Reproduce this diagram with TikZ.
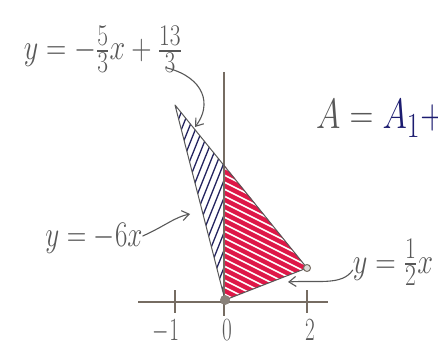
\documentclass[tikz,border=0pt]{standalone}
\usepackage{amsmath}
\usepackage{graphicx}
\usepackage{xcolor}
\usepackage{tikz}
\usetikzlibrary{arrows.meta}
\definecolor{pencil}{RGB}{88,88,88}
\definecolor{axisgray}{RGB}{118,108,98}
\definecolor{hatchblue}{RGB}{35,35,95}
\definecolor{hatchred}{RGB}{222,24,72}
\definecolor{inkblue}{RGB}{28,28,112}

\begin{document}
\begin{tikzpicture}[x=1pt, y=-1pt, >={Straight Barb[length=7pt,width=10pt]}, font=\Huge,
    hand/.style={color=pencil, line width=1.1pt, line cap=round},
    eqn/.style={text=pencil, inner sep=0pt, anchor=base}]
  \useasboundingbox (0,0) rectangle (438,347);
  \clip (0,0) rectangle (438,347);
  % corners of the region
  \coordinate (P) at (175,105);
  \coordinate (M) at (225,166);
  \coordinate (O) at (225,300);
  \coordinate (Q) at (307,268);
  % hatching
  \begin{scope}
    \clip (P) -- (M) -- (O) -- cycle;
    \foreach \s in {88,95,...,232}
      \draw[hatchblue, line width=1.3pt] (\s,310) -- ++(85,-212);
  \end{scope}
  \begin{scope}
    \clip (M) -- (Q) -- (O) -- cycle;
    \foreach \t in {146,153,...,306}
      \draw[hatchred, line width=4.4pt] (215,\t) -- ++(110,55);
  \end{scope}
  % axes
  \coordinate (xl) at (138,302);
  \coordinate (xr) at (328,302);
  \coordinate (yt) at (224,72);
  \coordinate (yb) at (224,316);
  \draw[axisgray, line width=1.2pt] (xl) -- (xr);
  \draw[axisgray, line width=1.1pt] (yt) -- (yb);
  \foreach \x in {175,307}
    \draw[axisgray, line width=1.2pt] (\x,290) -- (\x,313);
  \node[eqn] (tm1) at (166,340) {\scalebox{0.85}[1.3]{$-1$}};
  \node[eqn] (t0) at (227,340) {\scalebox{0.85}[1.3]{$0$}};
  \node[eqn] (t2) at (310,340) {\scalebox{0.85}[1.3]{$2$}};
  % triangle
  \draw[pencil, line width=1pt, line join=round] (P) -- (O) -- (Q) -- cycle;
  \fill[axisgray!85] (O) circle (5pt);
  \draw[axisgray, line width=1pt, fill=axisgray!25] (Q) circle (3.5pt);
  % labels
  \node[eqn] (lblTop) at (103,60)
    {\scalebox{1.13}[1.45]{$y=-\tfrac{5}{3}x+\tfrac{13}{3}$}};
  \node[eqn] (lblLeft) at (94,246)
    {\scalebox{1.09}[1.45]{$y=-6x$}};
  \node[eqn] (lblRight) at (393,273)
    {\scalebox{1.14}[1.45]{$y=\tfrac{1}{2}x$}};
  \node[anchor=base west, inner sep=0pt] (area) at (316,129)
    {\scalebox{1.33}[1.7]{{\color{pencil}$A={}$}{\color{inkblue}$A_1+$}}};
  % pointers
  \coordinate (tipTop) at (195,127);
  \coordinate (tipLeft) at (190,214);
  \coordinate (tipRight) at (288,282);
  \draw[hand, ->] ([xshift=-15pt, yshift=-8pt]lblTop.base east) .. controls (205,78) and (212,105) .. (tipTop);
  \draw[hand, ->] ([yshift=10pt]lblLeft.base east) .. controls (165,226) and (175,217) .. (tipLeft);
  \draw[hand, ->] ([yshift=3pt]lblRight.base west) .. controls (342,286) and (318,280) .. (tipRight);
\end{tikzpicture}
\end{document}
